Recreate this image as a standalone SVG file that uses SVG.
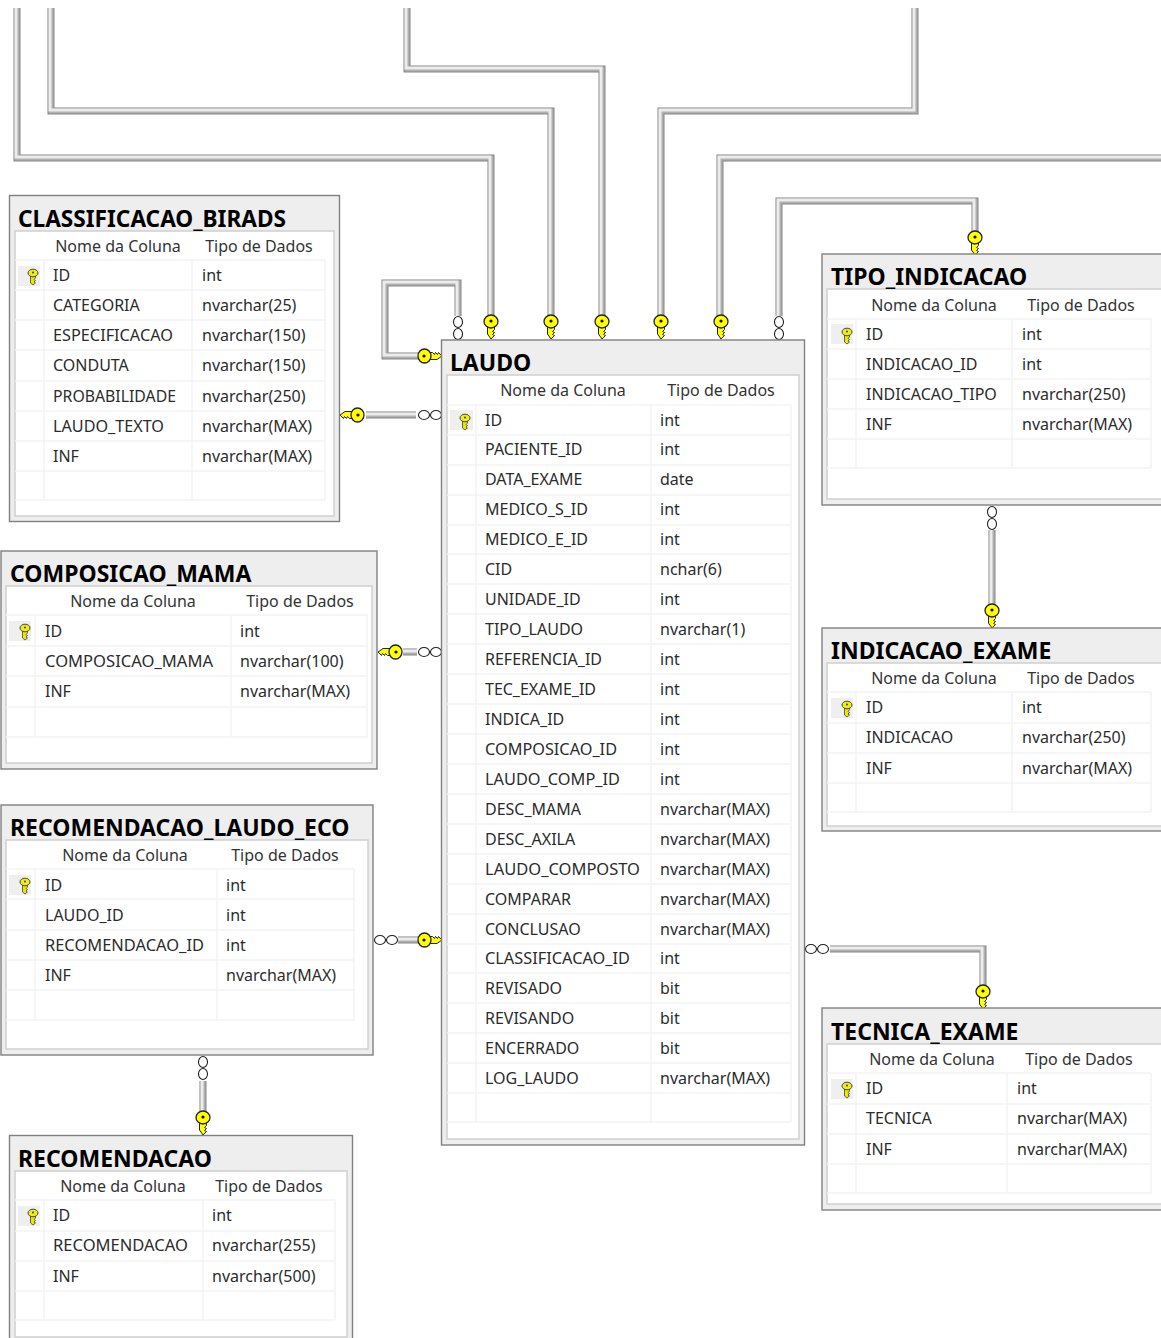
<svg xmlns="http://www.w3.org/2000/svg" width="1161" height="1338" viewBox="0 0 1161 1338">
<style>
text{font-family:"Noto Sans","Open Sans","Liberation Sans",sans-serif;font-size:16px;fill:#2b2b2b}
.t{font-size:23px;font-weight:700;fill:#000}
.h{text-anchor:middle;fill:#333}
.o{fill:#eee;stroke:#808080;stroke-width:1.4}
.i{fill:#fff;stroke:#d0d0d0;stroke-width:1.5}
.g{fill:none;stroke:#f3f3f3;stroke-width:1.5}
.kb{fill:#efefef}
.p0{fill:none;stroke:#858585;stroke-width:7}
.p2{fill:none;stroke:#b0b0b0;stroke-width:5}
.p1{fill:none;stroke:#ececec;stroke-width:3}
.c{fill:#fff;stroke:#222;stroke-width:1.1}
</style>
<defs>
<g id="key"><path d="M-3.5,4 V12 L0,17 L3.5,13.5 L1.5,12.5 L3.5,10.5 L1.5,9.5 L3.5,7.5 V4Z" fill="#ffff00" stroke="#222" stroke-width="1"/><ellipse rx="7" ry="6.5" cy="-.5" fill="#ffff00" stroke="#222" stroke-width="1.3"/><circle r="1.6" cy="-1" fill="#111"/></g>
<g id="skey"><path d="M-2.5,2 V10 L0,12 L2.5,10 L1,9 L2.5,7.5 L1,6.5 L2.5,5 V2Z" fill="#e8e800" stroke="#444" stroke-width=".8"/><ellipse rx="5" ry="3.8" cy="0" fill="#eeee10" stroke="#444" stroke-width="1"/><circle r=".9" cy="-.5" fill="#333"/></g>
<g id="oo"><ellipse class="c" cx="0" cy="-6" rx="4.5" ry="5.5"/><ellipse class="c" cx="0" cy="6" rx="4.5" ry="5.5"/></g>
<g id="ooh"><ellipse class="c" cx="-6" cy="0" rx="5.5" ry="4.5"/><ellipse class="c" cx="6" cy="0" rx="5.5" ry="4.5"/></g>
<g id="w1"><path class="p0" d="M17,8V158H491V316"/><path class="p2" d="M17,8V158H491V316"/><path class="p1" d="M16,8V157H490V316"/></g>
<g id="w2"><path class="p0" d="M51,8V111H551V316"/><path class="p2" d="M51,8V111H551V316"/><path class="p1" d="M50,8V110H550V316"/></g>
<g id="w3"><path class="p0" d="M407,8V69H602V316"/><path class="p2" d="M407,8V69H602V316"/><path class="p1" d="M406,8V68H601V316"/></g>
<g id="w4"><path class="p0" d="M915,8V111H661V316"/><path class="p2" d="M915,8V111H661V316"/><path class="p1" d="M914,8V110H660V316"/></g>
<g id="w5"><path class="p0" d="M1161,158H720V316"/><path class="p2" d="M1161,158H720V316"/><path class="p1" d="M1161,157H719V316"/></g>
<g id="w6"><path class="p0" d="M975,232V201H779V316"/><path class="p2" d="M975,232V201H779V316"/><path class="p1" d="M974,232V200H778V316"/></g>
<g id="w7"><path class="p0" d="M458,316V283H385V356H418"/><path class="p2" d="M458,316V283H385V356H418"/><path class="p1" d="M457,316V282H384V355H418"/></g>
<g id="w8"><path class="p0" d="M366,415H416"/><path class="p2" d="M366,415H416"/><path class="p1" d="M366,414H416"/></g>
<g id="w9"><path class="p0" d="M403,652H417"/><path class="p2" d="M403,652H417"/><path class="p1" d="M403,651H417"/></g>
<g id="w10"><path class="p0" d="M398,940H418"/><path class="p2" d="M398,940H418"/><path class="p1" d="M398,939H418"/></g>
<g id="w11"><path class="p0" d="M203,1081V1111"/><path class="p2" d="M203,1081V1111"/><path class="p1" d="M202,1081V1111"/></g>
<g id="w12"><path class="p0" d="M992,530V604"/><path class="p2" d="M992,530V604"/><path class="p1" d="M991,530V604"/></g>
<g id="w13"><path class="p0" d="M830,949H983V985"/><path class="p2" d="M830,949H983V985"/><path class="p1" d="M830,948H982V985"/></g>
</defs>
<g id="connectors">
<use href="#w1"/><use href="#w2"/><use href="#w3"/><use href="#w4"/><use href="#w5"/><use href="#w6"/><use href="#w7"/><use href="#w8"/><use href="#w9"/><use href="#w10"/><use href="#w11"/><use href="#w12"/><use href="#w13"/>
<use href="#key" x="491" y="322"/><use href="#key" x="551" y="322"/><use href="#key" x="602" y="322"/><use href="#key" x="661" y="322"/><use href="#key" x="721" y="322"/>
<use href="#oo" x="458" y="328"/><use href="#oo" x="779" y="328"/>
<use href="#key" transform="translate(425,356) rotate(-90)"/>
<use href="#key" transform="translate(357,415) rotate(90)"/><use href="#ooh" x="430" y="415"/>
<use href="#key" transform="translate(395,652) rotate(90)"/><use href="#ooh" x="430" y="652"/>
<use href="#ooh" x="386" y="940"/><use href="#key" transform="translate(425,940) rotate(-90)"/>
<use href="#oo" x="203" y="1068"/><use href="#key" x="203" y="1118"/>
<use href="#key" x="975" y="238"/>
<use href="#oo" x="992" y="518"/><use href="#key" x="992" y="611"/>
<use href="#ooh" x="817" y="949"/><use href="#key" x="983" y="992"/>
</g>
<g id="CLASSIFICACAO_BIRADS">
<rect class="o" x="9.5" y="195.5" width="330" height="326"/><rect class="i" x="15" y="231" width="319" height="285"/>
<path class="g" d="M15,260H325M15,290H325M15,320H325M15,350H325M15,381H325M15,411H325M15,441H325M15,471H325M15,500H325M44,260V500M192,260V500M325,260V500"/>
<rect class="kb" x="18" y="266" width="22" height="20"/><use href="#skey" x="33" y="273"/>
<text class="t" x="18" y="227" textLength="268" lengthAdjust="spacingAndGlyphs">CLASSIFICACAO_BIRADS</text>
<text class="h" x="118" y="252">Nome da Coluna</text><text class="h" x="259" y="252">Tipo de Dados</text>
<text x="53" y="281">ID</text><text x="202" y="281">int</text>
<text x="53" y="311">CATEGORIA</text><text x="202" y="311">nvarchar(25)</text>
<text x="53" y="341" textLength="120" lengthAdjust="spacingAndGlyphs">ESPECIFICACAO</text><text x="202" y="341">nvarchar(150)</text>
<text x="53" y="371">CONDUTA</text><text x="202" y="371">nvarchar(150)</text>
<text x="53" y="402" textLength="123" lengthAdjust="spacingAndGlyphs">PROBABILIDADE</text><text x="202" y="402">nvarchar(250)</text>
<text x="53" y="432" textLength="111" lengthAdjust="spacingAndGlyphs">LAUDO_TEXTO</text><text x="202" y="432">nvarchar(MAX)</text>
<text x="53" y="462">INF</text><text x="202" y="462">nvarchar(MAX)</text>
</g>
<g id="COMPOSICAO_MAMA">
<rect class="o" x="1" y="551" width="376" height="218"/><rect class="i" x="6" y="586" width="366" height="177"/>
<path class="g" d="M6,615H367M6,646H367M6,676H367M6,707H367M6,737H367M35,615V737M231,615V737M367,615V737"/>
<rect class="kb" x="9" y="621" width="22" height="20"/><use href="#skey" x="25" y="628"/>
<text class="t" x="10" y="582">COMPOSICAO_MAMA</text>
<text class="h" x="133" y="607">Nome da Coluna</text><text class="h" x="300" y="607">Tipo de Dados</text>
<text x="45" y="637">ID</text><text x="240" y="637">int</text>
<text x="45" y="667" textLength="168" lengthAdjust="spacingAndGlyphs">COMPOSICAO_MAMA</text><text x="240" y="667">nvarchar(100)</text>
<text x="45" y="697">INF</text><text x="240" y="697">nvarchar(MAX)</text>
</g>
<g id="RECOMENDACAO_LAUDO_ECO">
<rect class="o" x="1" y="805" width="372" height="250"/><rect class="i" x="6" y="840" width="362" height="209"/>
<path class="g" d="M6,869H354M6,899H354M6,930H354M6,960H354M6,990H354M6,1020H354M35,869V1020M217,869V1020M354,869V1020"/>
<rect class="kb" x="9" y="875" width="22" height="20"/><use href="#skey" x="25" y="882"/>
<text class="t" x="10" y="836">RECOMENDACAO_LAUDO_ECO</text>
<text class="h" x="125" y="861">Nome da Coluna</text><text class="h" x="285" y="861">Tipo de Dados</text>
<text x="45" y="891">ID</text><text x="226" y="891">int</text>
<text x="45" y="921">LAUDO_ID</text><text x="226" y="921">int</text>
<text x="45" y="951" textLength="159" lengthAdjust="spacingAndGlyphs">RECOMENDACAO_ID</text><text x="226" y="951">int</text>
<text x="45" y="981">INF</text><text x="226" y="981">nvarchar(MAX)</text>
</g>
<g id="RECOMENDACAO">
<rect class="o" x="9.5" y="1135.5" width="343" height="210"/><rect class="i" x="15" y="1171" width="332" height="166"/>
<path class="g" d="M15,1200H335M15,1231H335M15,1261H335M15,1291H335M15,1320H335M44,1200V1320M203,1200V1320M335,1200V1320"/>
<rect class="kb" x="18" y="1206" width="22" height="20"/><use href="#skey" x="33" y="1213"/>
<text class="t" x="18" y="1167">RECOMENDACAO</text>
<text class="h" x="123" y="1192">Nome da Coluna</text><text class="h" x="269" y="1192">Tipo de Dados</text>
<text x="53" y="1221">ID</text><text x="212" y="1221">int</text>
<text x="53" y="1251" textLength="135" lengthAdjust="spacingAndGlyphs">RECOMENDACAO</text><text x="212" y="1251">nvarchar(255)</text>
<text x="53" y="1282">INF</text><text x="212" y="1282">nvarchar(500)</text>
</g>
<g id="LAUDO">
<rect class="o" x="441.5" y="340" width="363" height="805"/><rect class="i" x="447" y="375" width="352" height="764"/>
<path class="g" d="M447,405H791M447,435H791M447,465H791M447,495H791M447,525H791M447,554H791M447,584H791M447,614H791M447,644H791M447,674H791M447,704H791M447,734H791M447,764H791M447,794H791M447,824H791M447,854H791M447,884H791M447,914H791M447,944H791M447,973H791M447,1003H791M447,1033H791M447,1063H791M447,1093H791M447,1122H791M476,405V1122M651,405V1122M791,405V1122"/>
<rect class="kb" x="450" y="410" width="23" height="20"/><use href="#skey" x="465" y="418"/>
<text class="t" x="450" y="371">LAUDO</text>
<text class="h" x="563" y="396">Nome da Coluna</text><text class="h" x="721" y="396">Tipo de Dados</text>
<text x="485" y="426">ID</text><text x="660" y="426">int</text>
<text x="485" y="455">PACIENTE_ID</text><text x="660" y="455">int</text>
<text x="485" y="485">DATA_EXAME</text><text x="660" y="485">date</text>
<text x="485" y="515">MEDICO_S_ID</text><text x="660" y="515">int</text>
<text x="485" y="545">MEDICO_E_ID</text><text x="660" y="545">int</text>
<text x="485" y="575">CID</text><text x="660" y="575">nchar(6)</text>
<text x="485" y="605">UNIDADE_ID</text><text x="660" y="605">int</text>
<text x="485" y="635">TIPO_LAUDO</text><text x="660" y="635">nvarchar(1)</text>
<text x="485" y="665" textLength="117" lengthAdjust="spacingAndGlyphs">REFERENCIA_ID</text><text x="660" y="665">int</text>
<text x="485" y="695" textLength="111" lengthAdjust="spacingAndGlyphs">TEC_EXAME_ID</text><text x="660" y="695">int</text>
<text x="485" y="725">INDICA_ID</text><text x="660" y="725">int</text>
<text x="485" y="755" textLength="132" lengthAdjust="spacingAndGlyphs">COMPOSICAO_ID</text><text x="660" y="755">int</text>
<text x="485" y="785" textLength="135" lengthAdjust="spacingAndGlyphs">LAUDO_COMP_ID</text><text x="660" y="785">int</text>
<text x="485" y="815">DESC_MAMA</text><text x="660" y="815">nvarchar(MAX)</text>
<text x="485" y="845">DESC_AXILA</text><text x="660" y="845">nvarchar(MAX)</text>
<text x="485" y="875" textLength="155" lengthAdjust="spacingAndGlyphs">LAUDO_COMPOSTO</text><text x="660" y="875">nvarchar(MAX)</text>
<text x="485" y="905">COMPARAR</text><text x="660" y="905">nvarchar(MAX)</text>
<text x="485" y="935">CONCLUSAO</text><text x="660" y="935">nvarchar(MAX)</text>
<text x="485" y="964" textLength="145" lengthAdjust="spacingAndGlyphs">CLASSIFICACAO_ID</text><text x="660" y="964">int</text>
<text x="485" y="994">REVISADO</text><text x="660" y="994">bit</text>
<text x="485" y="1024">REVISANDO</text><text x="660" y="1024">bit</text>
<text x="485" y="1054">ENCERRADO</text><text x="660" y="1054">bit</text>
<text x="485" y="1084">LOG_LAUDO</text><text x="660" y="1084">nvarchar(MAX)</text>
</g>
<g id="TIPO_INDICACAO">
<rect class="o" x="822" y="254" width="345" height="251"/><rect class="i" x="827" y="289" width="340" height="210"/>
<path class="g" d="M827,319H1151M827,349H1151M827,379H1151M827,409H1151M827,439H1151M827,468H1151M856,319V468M1012,319V468M1151,319V468"/>
<rect class="kb" x="831" y="324" width="22" height="20"/><use href="#skey" x="847" y="332"/>
<text class="t" x="831" y="285">TIPO_INDICACAO</text>
<text class="h" x="934" y="311">Nome da Coluna</text><text class="h" x="1081" y="311">Tipo de Dados</text>
<text x="866" y="340">ID</text><text x="1022" y="340">int</text>
<text x="866" y="370">INDICACAO_ID</text><text x="1022" y="370">int</text>
<text x="866" y="400">INDICACAO_TIPO</text><text x="1022" y="400">nvarchar(250)</text>
<text x="866" y="430">INF</text><text x="1022" y="430">nvarchar(MAX)</text>
</g>
<g id="INDICACAO_EXAME">
<rect class="o" x="822" y="628" width="345" height="203"/><rect class="i" x="827" y="663" width="340" height="163"/>
<path class="g" d="M827,692H1151M827,723H1151M827,753H1151M827,783H1151M827,812H1151M856,692V812M1012,692V812M1151,692V812"/>
<rect class="kb" x="831" y="698" width="22" height="20"/><use href="#skey" x="847" y="705"/>
<text class="t" x="831" y="659">INDICACAO_EXAME</text>
<text class="h" x="934" y="684">Nome da Coluna</text><text class="h" x="1081" y="684">Tipo de Dados</text>
<text x="866" y="713">ID</text><text x="1022" y="713">int</text>
<text x="866" y="743">INDICACAO</text><text x="1022" y="743">nvarchar(250)</text>
<text x="866" y="774">INF</text><text x="1022" y="774">nvarchar(MAX)</text>
</g>
<g id="TECNICA_EXAME">
<rect class="o" x="822" y="1008" width="345" height="202"/><rect class="i" x="827" y="1044" width="340" height="160"/>
<path class="g" d="M827,1073H1151M827,1104H1151M827,1134H1151M827,1164H1151M827,1193H1151M856,1073V1193M1007,1073V1193M1151,1073V1193"/>
<rect class="kb" x="831" y="1079" width="22" height="20"/><use href="#skey" x="847" y="1086"/>
<text class="t" x="831" y="1040">TECNICA_EXAME</text>
<text class="h" x="932" y="1065">Nome da Coluna</text><text class="h" x="1079" y="1065">Tipo de Dados</text>
<text x="866" y="1094">ID</text><text x="1017" y="1094">int</text>
<text x="866" y="1124">TECNICA</text><text x="1017" y="1124">nvarchar(MAX)</text>
<text x="866" y="1155">INF</text><text x="1017" y="1155">nvarchar(MAX)</text>
</g>
</svg>
